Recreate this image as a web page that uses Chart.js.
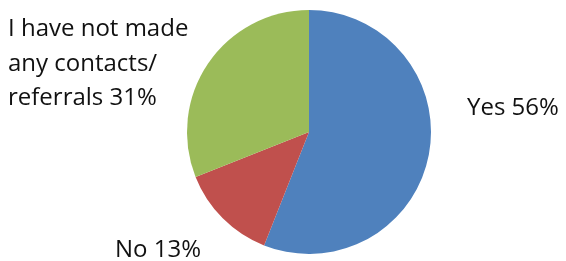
<!DOCTYPE html>
<html>
<head>
<meta charset="utf-8">
<script src="https://cdn.jsdelivr.net/npm/chart.js@4/dist/chart.umd.min.js"></script>
<style>
  html, body { margin: 0; padding: 0; background: #fff; }
  #wrap { width: 566px; height: 261px; }
</style>
</head>
<body>
<div id="wrap"><canvas id="pieChart" width="566" height="261"></canvas></div>
<script>
const categories = ['Yes', 'No', 'I have not made any contacts/ referrals'];
const shares = [56, 13, 31];
const labelLines = [
    ['Yes 56%'],
    ['No 13%'],
    ['I have not made', 'any contacts/', 'referrals 31%']
];
const sliceColors = ['#4F81BD', '#C0504D', '#9BBB59'];

// draws the outside labels next to the pie, placed from the arc geometry
const outsideLabels = {
    id: 'outsideLabels',
    afterDraw(chart) {
        const ctx = chart.ctx;
        const arc = chart.getDatasetMeta(0).data[0];
        const cx = arc.x, cy = arc.y, r = arc.outerRadius;
        ctx.save();
        ctx.fillStyle = '#111';
        ctx.font = '24px "Open Sans", sans-serif';
        ctx.textBaseline = 'alphabetic';

        // Yes
        ctx.textAlign = 'left';
        ctx.fillText(labelLines[0][0], cx + r + 36, cy - 17);

        // No
        ctx.textAlign = 'right';
        ctx.fillText(labelLines[1][0], cx - 108, cy + 125);

        // I have not made ...
        ctx.textAlign = 'left';
        labelLines[2].forEach((line, i) => {
            ctx.fillText(line, 8, 36 + i * 34.5);
        });
        ctx.restore();
    }
};

new Chart(document.getElementById('pieChart').getContext('2d'), {
    type: 'pie',
    data: {
        labels: categories,
        datasets: [{
            data: shares,
            backgroundColor: sliceColors,
            borderWidth: 0
        }]
    },
    options: {
        responsive: false,
        animation: false,
        layout: {
            padding: { top: 10, bottom: 7, left: 52, right: 0 }
        },
        plugins: {
            legend: { display: false },
            tooltip: { enabled: false }
        }
    },
    plugins: [outsideLabels]
});
</script>
</body>
</html>
